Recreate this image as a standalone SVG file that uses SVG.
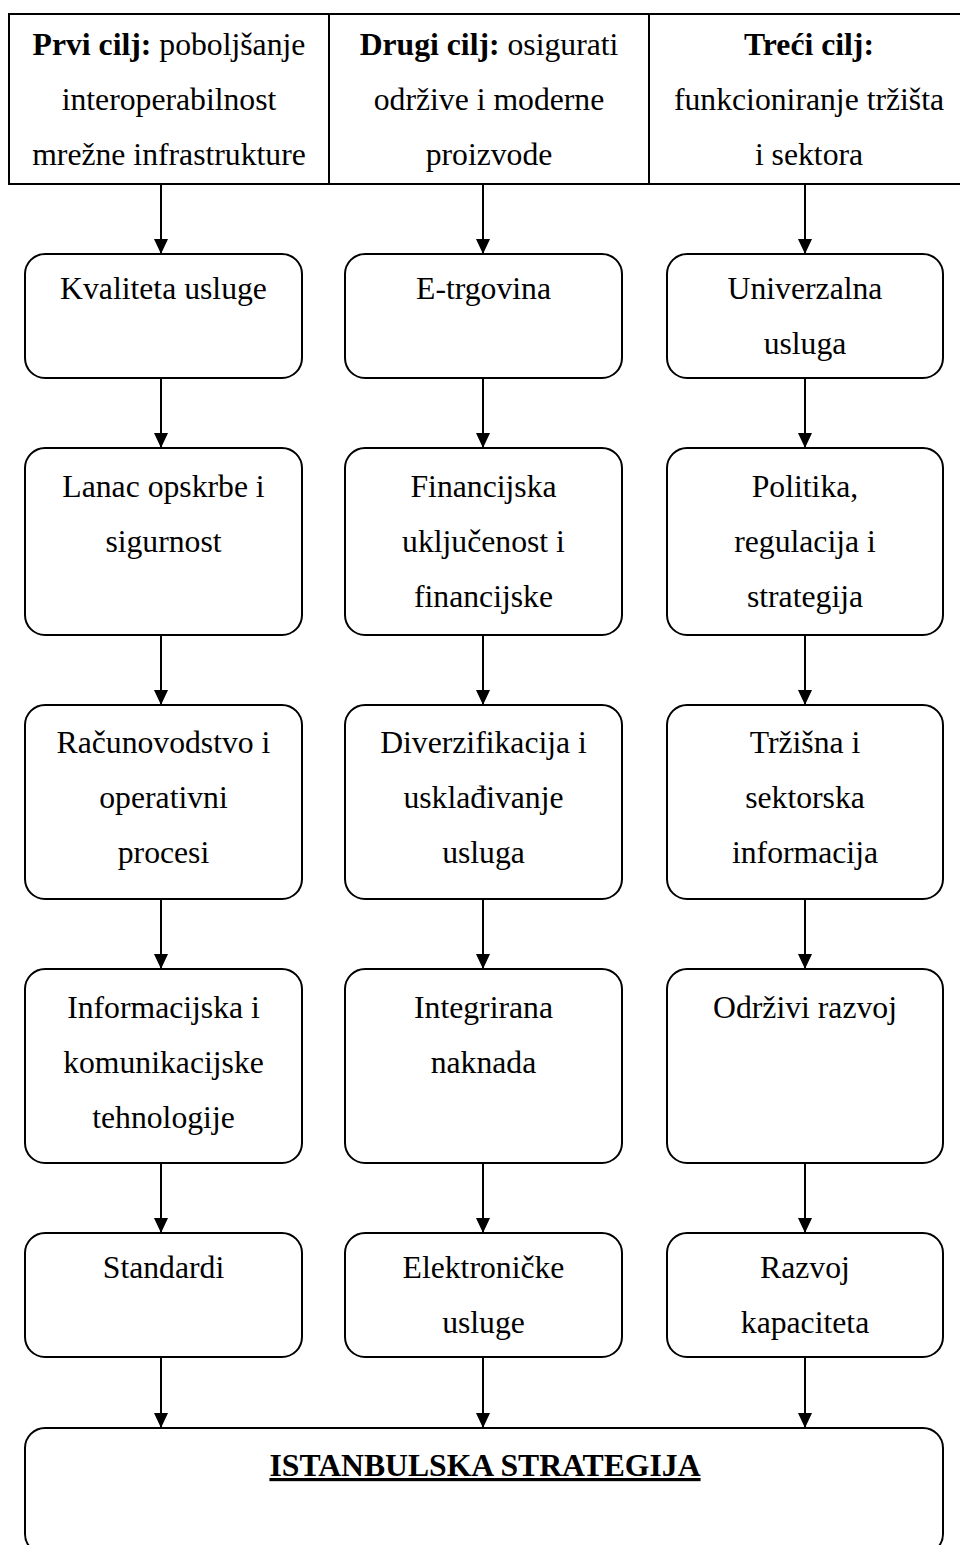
<svg xmlns="http://www.w3.org/2000/svg" width="960" height="1545" viewBox="0 0 960 1545">
<defs>
<style>
text{font-family:"Liberation Serif","Times New Roman",serif;font-size:31.7px;fill:#000;text-anchor:middle}
.b{font-weight:bold}
.box{fill:#fff;stroke:#000;stroke-width:2}
.hdr{fill:none;stroke:#000;stroke-width:2}
.c{stroke:#000;stroke-width:2;fill:none;marker-end:url(#ah)}
</style>
<marker id="ah" markerUnits="userSpaceOnUse" markerWidth="16" markerHeight="16" refX="15" refY="7" orient="auto">
<path d="M0,0 L15,7 L0,14 Z" fill="#000"/>
</marker>
</defs>
<rect width="960" height="1545" fill="#fff"/>

<g id="header">
<path class="hdr" d="M970,14 H9 V184 H970 M329,14 V184 M649,14 V184"/>
<text x="169" y="55"><tspan class="b">Prvi cilj:</tspan> poboljšanje</text>
<text x="169" y="110">interoperabilnost</text>
<text x="169" y="165">mrežne infrastrukture</text>
<text x="489" y="55"><tspan class="b">Drugi cilj:</tspan> osigurati</text>
<text x="489" y="110">održive i moderne</text>
<text x="489" y="165">proizvode</text>
<text x="809" y="55" class="b">Treći cilj:</text>
<text x="809" y="110">funkcioniranje tržišta</text>
<text x="809" y="165">i sektora</text>
</g>

<g id="connectors">
<line class="c" x1="161" y1="184" x2="161" y2="254"/>
<line class="c" x1="483" y1="184" x2="483" y2="254"/>
<line class="c" x1="805" y1="184" x2="805" y2="254"/>
<line class="c" x1="161" y1="378" x2="161" y2="448"/>
<line class="c" x1="483" y1="378" x2="483" y2="448"/>
<line class="c" x1="805" y1="378" x2="805" y2="448"/>
<line class="c" x1="161" y1="635" x2="161" y2="705"/>
<line class="c" x1="483" y1="635" x2="483" y2="705"/>
<line class="c" x1="805" y1="635" x2="805" y2="705"/>
<line class="c" x1="161" y1="899" x2="161" y2="969"/>
<line class="c" x1="483" y1="899" x2="483" y2="969"/>
<line class="c" x1="805" y1="899" x2="805" y2="969"/>
<line class="c" x1="161" y1="1163" x2="161" y2="1233"/>
<line class="c" x1="483" y1="1163" x2="483" y2="1233"/>
<line class="c" x1="805" y1="1163" x2="805" y2="1233"/>
<line class="c" x1="161" y1="1357" x2="161" y2="1428"/>
<line class="c" x1="483" y1="1357" x2="483" y2="1428"/>
<line class="c" x1="805" y1="1357" x2="805" y2="1428"/>
</g>

<g id="n-kvaliteta"><rect class="box" x="25" y="254" width="277" height="124" rx="20"/><text x="163.5" y="299">Kvaliteta usluge</text></g>
<g id="n-etrgovina"><rect class="box" x="345" y="254" width="277" height="124" rx="20"/><text x="483.5" y="299">E-trgovina</text></g>
<g id="n-univerzalna"><rect class="box" x="667" y="254" width="276" height="124" rx="20"/><text x="805" y="299">Univerzalna</text><text x="805" y="354">usluga</text></g>

<g id="n-lanac"><rect class="box" x="25" y="448" width="277" height="187" rx="20"/><text x="163.5" y="497">Lanac opskrbe i</text><text x="163.5" y="552">sigurnost</text></g>
<g id="n-financijska"><rect class="box" x="345" y="448" width="277" height="187" rx="20"/><text x="483.5" y="497">Financijska</text><text x="483.5" y="552">uključenost i</text><text x="483.5" y="607">financijske</text></g>
<g id="n-politika"><rect class="box" x="667" y="448" width="276" height="187" rx="20"/><text x="805" y="497">Politika,</text><text x="805" y="552">regulacija i</text><text x="805" y="607">strategija</text></g>

<g id="n-racunovodstvo"><rect class="box" x="25" y="705" width="277" height="194" rx="20"/><text x="163.5" y="753">Računovodstvo i</text><text x="163.5" y="808">operativni</text><text x="163.5" y="863">procesi</text></g>
<g id="n-diverzifikacija"><rect class="box" x="345" y="705" width="277" height="194" rx="20"/><text x="483.5" y="753">Diverzifikacija i</text><text x="483.5" y="808">usklađivanje</text><text x="483.5" y="863">usluga</text></g>
<g id="n-trzisna"><rect class="box" x="667" y="705" width="276" height="194" rx="20"/><text x="805" y="753">Tržišna i</text><text x="805" y="808">sektorska</text><text x="805" y="863">informacija</text></g>

<g id="n-informacijska"><rect class="box" x="25" y="969" width="277" height="194" rx="20"/><text x="163.5" y="1018">Informacijska i</text><text x="163.5" y="1073">komunikacijske</text><text x="163.5" y="1128">tehnologije</text></g>
<g id="n-integrirana"><rect class="box" x="345" y="969" width="277" height="194" rx="20"/><text x="483.5" y="1018">Integrirana</text><text x="483.5" y="1073">naknada</text></g>
<g id="n-odrzivi"><rect class="box" x="667" y="969" width="276" height="194" rx="20"/><text x="805" y="1018">Održivi razvoj</text></g>

<g id="n-standardi"><rect class="box" x="25" y="1233" width="277" height="124" rx="20"/><text x="163.5" y="1278">Standardi</text></g>
<g id="n-elektronicke"><rect class="box" x="345" y="1233" width="277" height="124" rx="20"/><text x="483.5" y="1278">Elektroničke</text><text x="483.5" y="1333">usluge</text></g>
<g id="n-razvoj"><rect class="box" x="667" y="1233" width="276" height="124" rx="20"/><text x="805" y="1278">Razvoj</text><text x="805" y="1333">kapaciteta</text></g>

<g id="n-istanbulska"><rect class="box" x="25" y="1428" width="918" height="126" rx="20"/><text x="485" y="1476" class="b" text-decoration="underline">ISTANBULSKA STRATEGIJA</text></g>
</svg>
